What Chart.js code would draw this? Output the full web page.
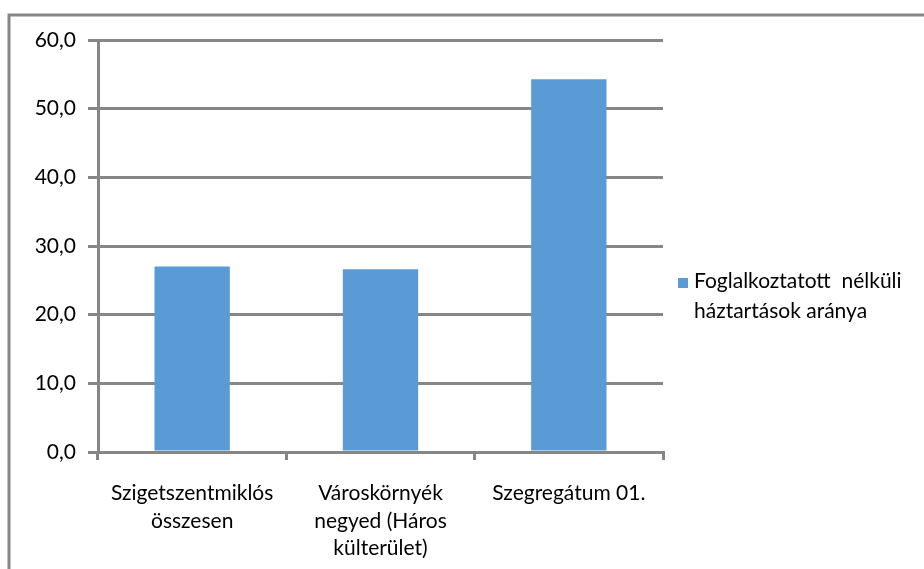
<!DOCTYPE html>
<html>
<head>
<meta charset="utf-8">
<script src="https://cdn.jsdelivr.net/npm/chart.js@4.4.0/dist/chart.umd.min.js"></script>
<style>
html,body{margin:0;padding:0;background:#fff;}
#wrap{width:924px;height:569px;position:relative;}
</style>
</head>
<body>
<div id="wrap"><canvas id="c" width="924" height="569"></canvas></div>
<script>
const categories = [
  ["Szigetszentmiklós", "összesen"],
  ["Városkörnyék", "negyed (Háros", "külterület)"],
  ["Szegregátum 01."]
];
const seriesName = ["Foglalkoztatott  nélküli", "háztartások aránya"];
const values = [27.0, 26.6, 54.3];
const yTicks = [0, 10, 20, 30, 40, 50, 60];

const GRID = '#868686';
const BAR = '#5B9BD5';
const FONT = 'Lato, "Open Sans", sans-serif';
const FSIZE = 21;

const framePlugin = {
  id: 'frame',
  beforeDraw(chart) {
    const ctx = chart.ctx;
    ctx.save();
    ctx.fillStyle = '#fff';
    ctx.fillRect(0, 0, chart.width, chart.height);
    ctx.strokeStyle = GRID;
    ctx.lineWidth = 3;
    ctx.beginPath();
    ctx.moveTo(9, 569);
    ctx.lineTo(9, 15);
    ctx.lineTo(924, 15);
    ctx.stroke();
    ctx.restore();
  },
  afterDraw(chart) {
    const ctx = chart.ctx;
    ctx.save();
    ctx.fillStyle = BAR;
    ctx.fillRect(678, 278, 10, 10);
    ctx.fillStyle = '#000';
    ctx.font = FSIZE + 'px ' + FONT;
    ctx.textBaseline = 'middle';
    ctx.textAlign = 'left';
    seriesName.forEach((t, i) => ctx.fillText(t, 694, 281 + i * 30));
    ctx.restore();
  }
};

new Chart(document.getElementById('c'), {
  type: 'bar',
  data: {
    labels: categories,
    datasets: [{
      label: seriesName.join(' '),
      data: values,
      backgroundColor: BAR,
      borderWidth: 0,
      barPercentage: 0.4,
      categoryPercentage: 1.0
    }]
  },
  options: {
    responsive: false,
    animation: false,
    devicePixelRatio: 1,
    layout: { padding: { left: 0, top: 40, right: 261, bottom: 0 } },
    plugins: {
      legend: { display: false },
      tooltip: { enabled: false }
    },
    scales: {
      x: {
        grid: {
          display: true,
          offset: true,
          drawOnChartArea: false,
          drawTicks: true,
          tickLength: 8,
          color: GRID,
          lineWidth: 3
        },
        border: { display: true, color: GRID, width: 3 },
        ticks: {
          color: '#000',
          font: { family: FONT, size: FSIZE, lineHeight: 1.3 },
          padding: 20,
          maxRotation: 0,
          autoSkip: false
        },
        afterFit(s) { s.height = 117; }
      },
      y: {
        min: 0,
        max: 60,
        afterBuildTicks(s) { s.ticks = yTicks.map(v => ({ value: v })); },
        grid: {
          color: GRID,
          lineWidth: 3,
          drawTicks: true,
          tickLength: 10
        },
        border: { display: true, color: GRID, width: 3 },
        ticks: {
          color: '#000',
          font: { family: FONT, size: FSIZE },
          padding: 12,
          callback: v => v.toFixed(1).replace('.', ',')
        },
        afterFit(s) { s.width = 98; }
      }
    }
  },
  plugins: [framePlugin]
});
</script>
</body>
</html>
